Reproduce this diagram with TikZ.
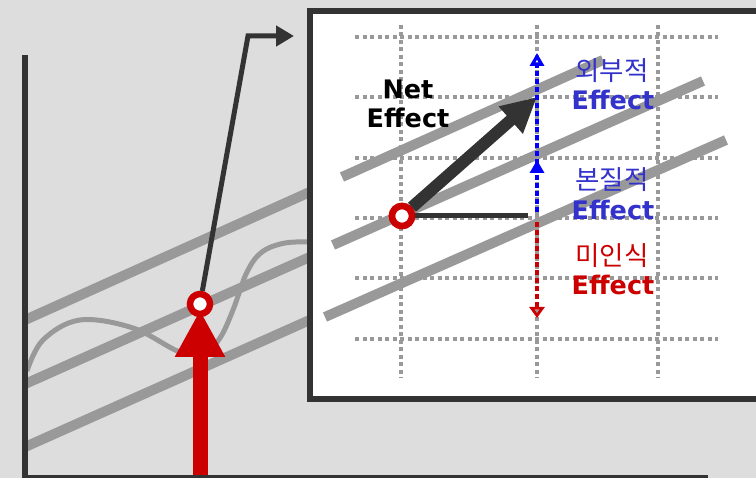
\documentclass[tikz,border=0pt]{standalone}
\usepackage{fontspec}
\usetikzlibrary{arrows.meta}
\newfontfamily\vsans{DejaVu Sans}
\newfontfamily\krfont{Noto Sans CJK KR}
\definecolor{bgc}{HTML}{DDDDDD}
\definecolor{darkc}{HTML}{333333}
\definecolor{grayl}{HTML}{999999}
\definecolor{redc}{HTML}{CC0000}
\definecolor{bluet}{HTML}{3333CC}
\definecolor{blueline}{HTML}{0000FF}
\tikzset{
  trend/.style={draw=grayl, line width=10pt},
  gridline/.style={draw=grayl, line width=3.6pt, dash pattern=on 4pt off 3.5pt},
  axis/.style={draw=darkc, line width=6pt},
  ptc/.style={circle, draw=redc, line width=6.5pt, fill=white, minimum size=20pt, inner sep=0pt},
  efftxt/.style={font=\vsans\bfseries\fontsize{25.5}{28}\selectfont, anchor=base, inner sep=0pt},
  krtxt/.style={font=\krfont\fontsize{26.5}{28}\selectfont, anchor=base, inner sep=0pt},
  vdash/.style={line width=3.6pt, dash pattern=on 5pt off 3pt},
}
\begin{document}
\begin{tikzpicture}[x=1pt, y=-1pt]
\clip (0,0) rectangle (756,478);
\fill[bgc] (0,0) rectangle (756,478);
% left panel trend lines
\draw[trend] (25,320) -- (312,191);
\draw[trend] (25,384) -- (312,256);
\draw[trend] (25,447) -- (312,319);
% curve
\draw[grayl, line width=5pt] plot[smooth, tension=0.6] coordinates {(27,371) (43,340) (80,320) (133,328) (180,352) (205,352) (220,338) (233,310) (247,272) (262,252) (285,243) (312,242)};
% red arrow
\coordinate (rbase) at (200,480);
\coordinate (rtip) at (200,310);
\draw[redc, line width=15pt, -{Triangle[length=47pt,width=47pt]}] (rbase) -- (rtip);
% point left
\node[ptc] (pL) at (200,304) {};
% connector to box
\coordinate (bend) at (248,36);
\coordinate (boxin) at (294,36);
\draw[darkc, line width=5pt, -{Triangle[length=18pt,width=20pt]}] (pL) -- (bend) -- (boxin);
% axes
\draw[axis] (25,55) -- (25,478) -- (708,478);
% zoom box
\draw[fill=white, draw=darkc, line width=6pt] (310,11) rectangle (790,399);
% grid
\foreach \yy in {37,97,158,218,278,339} \draw[gridline] (355,\yy) -- (718,\yy);
\foreach \xx in {401,537,658} \draw[gridline] (\xx,25) -- (\xx,378);
% box trend lines
\draw[trend] (342,177) -- (603,60);
\draw[trend] (333,245) -- (703,81);
\draw[trend] (325,317) -- (726,140);
% net effect arrow and baseline
\node[ptc] (pB) at (402,216) {};
\coordinate (netTip) at (537,97);
\coordinate (hEnd) at (528,216);
\draw[darkc, line width=5pt] (pB) -- (hEnd);
\draw[darkc, line width=12pt, -{Triangle[length=35pt,width=34pt]}] (pB) -- (netTip);
\node[ptc] at (pB) {};
% vertical effect arrows
\coordinate (vbot) at (537,212);
\coordinate (vmid) at (537,160);
\coordinate (vtop) at (537,53);
\coordinate (rstart) at (537,222);
\coordinate (rend) at (537,318);
\draw[blueline, vdash, -{Triangle[open,length=13pt,width=14pt]}] (vbot) -- (vtop);
\draw[blueline, vdash, -{Triangle[open,length=13pt,width=14pt]}] (vbot) -- (vmid);
\draw[redc, vdash, -{Triangle[open,length=11pt,width=15pt]}] (rstart) -- (rend);
% texts
\node[efftxt, text=black] (net1) at (408,99) {Net};
\node[efftxt, text=black] (net2) at (408,128) {Effect};
\node[krtxt, text=bluet] (ext1) at (612,81) {외부적};
\node[efftxt, text=bluet] (ext2) at (613,110) {Effect};
\node[krtxt, text=bluet] (ess1) at (612,190) {본질적};
\node[efftxt, text=bluet] (ess2) at (613,220) {Effect};
\node[krtxt, text=redc] (unk1) at (612,266) {미인식};
\node[efftxt, text=redc] (unk2) at (613,295) {Effect};
\end{tikzpicture}
\end{document}
